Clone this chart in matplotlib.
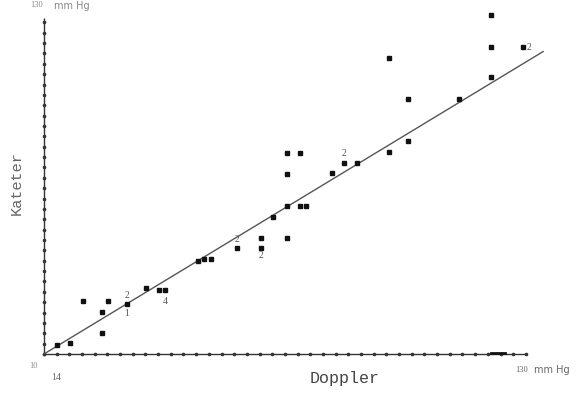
import matplotlib
matplotlib.use("Agg")
import matplotlib.pyplot as plt
import numpy as np

# Doppler (x) vs Kateter (y) pressures, mmHg
doppler = [13.2, 16.5, 19.7, 24.4, 24.4, 25.9, 30.6, 35.3, 38.6, 40.1,
           48.3, 49.7, 51.5, 57.9, 63.9, 63.9, 70.4, 66.9, 70.4, 73.6,
           75.1, 70.4, 70.4, 73.6, 81.5, 84.5, 87.7, 95.7, 95.7, 100.4,
           100.4, 113.1, 121.0, 121.0, 121.0, 129.0]
kateter = [13.2, 13.9, 28.9, 25.0, 17.5, 28.9, 27.9, 33.6, 32.9, 32.9,
           43.2, 43.9, 43.9, 47.9, 51.4, 47.9, 51.4, 58.9, 62.9, 62.9,
           62.9, 74.3, 81.8, 81.8, 74.6, 78.2, 78.2, 115.7, 82.1, 101.1,
           86.1, 101.1, 131.1, 119.6, 108.9, 119.6]

# multiplicity annotations: (x, y, label)
ann_x = [30.6, 30.6, 40.1, 57.9, 63.9, 84.5, 130.4]
ann_y = [30.8, 24.3, 28.6, 50.8, 45.0, 81.5, 119.6]
ann_t = ["2", "1", "4", "2", "2", "2", "2"]

# regression line
line_x = [10, 134]
line_y = [10, 118]

fig = plt.figure(figsize=(5.79, 3.94), dpi=100)
ax = fig.add_axes([0, 0, 1, 1])
ax.set_xlim(-0.93, 142.9)
ax.set_ylim(-4.29, 136.4)
ax.axis("off")

ink = "#333333"
# axes lines
ax.plot([10, 130], [10, 10], color=ink, lw=1.0, solid_capstyle="butt")
ax.plot([10, 10], [10, 130], color=ink, lw=1.0, solid_capstyle="butt")
# tick dots
xt = np.arange(10, 130.5, 3.15)
ax.plot(xt, np.full_like(xt, 10), ls="none", marker="o", ms=1.6, color=ink)
yt = np.arange(10, 130.5, 3.7)
ax.plot(np.full_like(yt, 10), yt, ls="none", marker="o", ms=1.6, color=ink)
# thicker smudge near right end of x axis
ax.plot([121, 124.5], [10.2, 10.2], color="#111111", lw=2.0)

# regression line
ax.plot(line_x, line_y, color="#555555", lw=1.0)

# points
ax.plot(doppler, kateter, ls="none", marker="s", ms=2.4, color="#111111")

gray = "#555555"
for x, y, t in zip(ann_x, ann_y, ann_t):
    ax.text(x, y, t, ha="center", va="center", fontsize=7,
            family="Liberation Serif", color=gray)


def px(xp, yp):
    return xp / 579 * 143.83 - 0.93, 136.4 - yp * 140.69 / 394


# axis texts
ax.text(*px(345, 378), "Doppler", ha="center", va="center", fontsize=12,
        family="Liberation Mono", color="#444444")
ax.text(*px(17, 183), "Kateter", ha="center", va="center", fontsize=11,
        family="Liberation Mono", color="#666666", rotation=90)

ax.text(*px(37, 5), "130", ha="center", va="center", fontsize=6,
        color="#888888", family="Liberation Serif")
ax.text(*px(72, 6), "mm Hg", ha="center", va="center", fontsize=7,
        color="#888888", family="DejaVu Sans")
ax.text(*px(522, 370), "130", ha="center", va="center", fontsize=6,
        color="#666666", family="Liberation Serif")
ax.text(*px(552, 370), "mm Hg", ha="center", va="center", fontsize=7,
        color="#666666", family="DejaVu Sans")
ax.text(*px(34, 366), "10", ha="center", va="center", fontsize=6,
        color="#888888", family="Liberation Serif")
ax.text(*px(56, 377), "14", ha="center", va="center", fontsize=7,
        color="#666666", family="Liberation Serif")

fig.savefig("out.png", dpi=100, facecolor="white")
